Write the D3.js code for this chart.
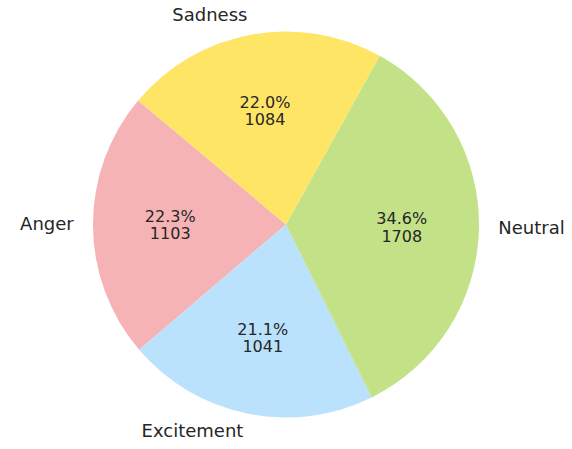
<!DOCTYPE html>
<html lang="en">
<head>
<meta charset="utf-8">
<title>emotion pie</title>
<script src="https://d3js.org/d3.v7.min.js"></script>
<style>
  body { margin: 0; background: #fff; }
  .cat { font-family: "DejaVu Sans"; font-size: 18px; fill: #262626; }
  .pct { font-family: "DejaVu Sans"; font-size: 16px; fill: #262626; }
</style>
</head>
<body>
<div id="chart"></div>
<script>
var width = 572;
var height = 449;

var categories = ["Anger", "Excitement", "Neutral", "Sadness"];
var counts = [1103, 1041, 1708, 1084];
var colors = ["#f6b3b5", "#bae2fc", "#c3e186", "#ffe565"];

var cx = 286, cy = 224.5, radius = 193;
// matplotlib startangle=140, counterclockwise
var start = (90 - 140) * Math.PI / 180;

var total = d3.sum(counts);
var data = categories.map(function(c, i) { return {name: c, value: counts[i], color: colors[i]}; });

var pie = d3.pie()
  .sort(null)
  .value(function(d) { return d.value; })
  .startAngle(start)
  .endAngle(start - 2 * Math.PI);

var arc = d3.arc().innerRadius(0).outerRadius(radius);

var svg = d3.select("#chart").append("svg")
  .attr("width", width)
  .attr("height", height);

var g = svg.append("g").attr("transform", "translate(" + cx + "," + cy + ")");

var arcs = pie(data);

g.selectAll("path")
  .data(arcs)
  .enter()
  .append("path")
  .attr("d", arc)
  .attr("fill", function(d) { return d.data.color; });

function mid(d) { return (d.startAngle + d.endAngle) / 2; }

// category labels at 1.1 r
g.selectAll("text.cat")
  .data(arcs)
  .enter()
  .append("text")
  .attr("class", "cat")
  .attr("x", function(d) { return Math.sin(mid(d)) * radius * 1.1; })
  .attr("y", function(d) { return -Math.cos(mid(d)) * radius * 1.1 + 4.8; })
  .attr("text-anchor", function(d) { return Math.sin(mid(d)) > 0 ? "start" : "end"; })
  .text(function(d) { return d.data.name; });

// percent + count at 0.6 r
var pl = g.selectAll("text.pct")
  .data(arcs)
  .enter()
  .append("text")
  .attr("class", "pct")
  .attr("text-anchor", "middle");

pl.append("tspan")
  .attr("x", function(d) { return Math.sin(mid(d)) * radius * 0.6; })
  .attr("y", function(d) { return -Math.cos(mid(d)) * radius * 0.6 - 3; })
  .text(function(d) { return (100 * d.data.value / total).toFixed(1) + "%"; });

pl.append("tspan")
  .attr("x", function(d) { return Math.sin(mid(d)) * radius * 0.6; })
  .attr("y", function(d) { return -Math.cos(mid(d)) * radius * 0.6 + 14.5; })
  .text(function(d) { return d.data.value; });
</script>
</body>
</html>
